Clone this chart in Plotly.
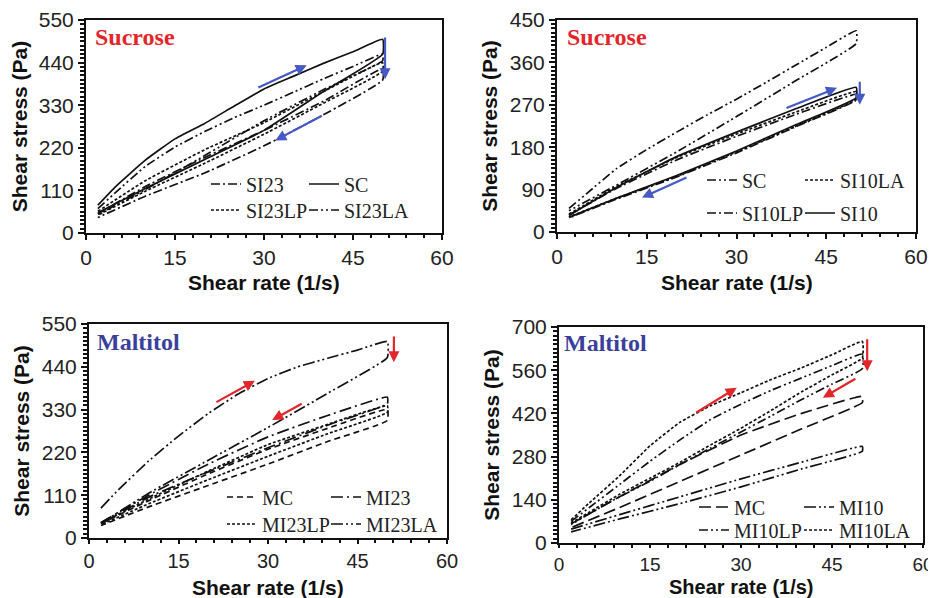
import plotly.graph_objects as go

# ---------------- data ----------------
X6 = [2, 10, 20, 30, 40, 50]
X11 = [2, 5, 10, 15, 20, 25, 30, 35, 40, 45, 50]

# Panel 1 (Sucrose, SI23 set)  -- up curves and down curves (down given in ascending x)
p1_SC_up = [72, 120, 188, 243, 283, 328, 372, 405, 438, 468, 500]
p1_SC_down = [52, 115, 190, 265, 365, 462]
p1_SI23LA_up = [63, 105, 172, 222, 262, 298, 330, 364, 398, 430, 462]
p1_SI23LA_down = [48, 112, 200, 290, 370, 445]
p1_SI23LP_up = [56, 135, 215, 285, 365, 440]
p1_SI23LP_down = [46, 108, 180, 255, 335, 418]
p1_SI23_up = [50, 120, 195, 265, 340, 424]
p1_SI23_down = [40, 95, 155, 225, 305, 395]

# Panel 2 (Sucrose, SI10 set)
p2_SC_up = [50, 82, 135, 175, 212, 248, 282, 318, 355, 392, 427]
p2_SC_down = [45, 100, 170, 245, 322, 400]
p2_SI10LA_up = [38, 97, 158, 208, 255, 298]
p2_SI10LA_down = [32, 72, 118, 170, 225, 282]
p2_SI10LP_up = [36, 93, 153, 203, 250, 292]
p2_SI10LP_down = [30, 70, 117, 168, 224, 280]
p2_SI10_up = [35, 95, 160, 212, 262, 307]
p2_SI10_down = [31, 72, 120, 172, 228, 285]

# Panel 3 (Maltitol, MI23 set)
p3_MI23LA_up = [77, 125, 198, 262, 320, 370, 410, 440, 462, 483, 505]
p3_MI23LA_down = [38, 115, 200, 284, 372, 464]
p3_MI23_up = [40, 110, 190, 260, 315, 362]
p3_MI23_down = [36, 105, 170, 232, 290, 345]
p3_MI23LP_up = [38, 100, 172, 240, 292, 340]
p3_MI23LP_down = [34, 88, 150, 210, 268, 323]
p3_MC_up = [37, 96, 165, 228, 282, 330]
p3_MC_down = [32, 80, 135, 190, 248, 302]

# Panel 4 (Maltitol, MI10 set)
p4_MI10LA_up = [75, 130, 218, 315, 392, 445, 487, 530, 568, 610, 653]
p4_MI10LA_down = [65, 100, 158, 210, 262, 318, 372, 430, 490, 545, 600]
p4_MI10LP_up = [70, 115, 190, 265, 335, 400, 450, 495, 535, 575, 612]
p4_MI10LP_down = [60, 95, 150, 200, 255, 308, 360, 412, 465, 515, 565]
p4_MC_up = [62, 150, 255, 350, 420, 475]
p4_MC_down = [50, 115, 200, 285, 370, 455]
p4_MI10_up = [45, 92, 150, 208, 262, 313]
p4_MI10_down = [36, 78, 128, 182, 240, 297]

x_range = [0, 60]
x_dtick = 15
y_ranges = [[0, 550], [0, 450], [0, 550], [0, 700]]
y_dticks = [110, 90, 110, 140]
panel_titles = ["Sucrose", "Sucrose", "Maltitol", "Maltitol"]
x_title = "Shear rate (1/s)"
y_title = "Shear stress (Pa)"

# ---------------- styles ----------------
SOLID = "solid"
SMALLDASH = "3px,2px"
DASH = "6px,4px"
LONGDASH = "12px,5px"
DASHDOT = "9px,3px,2px,3px"
DASHDOTDOT = "9px,3px,2px,3px,2px,3px"
LDASHDOTDOT = "12px,3px,2px,3px,2px,3px"

fig = go.Figure()


def add_loop(name, xu, yu, xd, yd, dash, ax, legend, lw=None):
    x = list(xu) + list(xd)[::-1]
    y = list(yu) + list(yd)[::-1]
    kw = {}
    if lw:
        kw["legendwidth"] = lw
    fig.add_trace(go.Scatter(
        x=x, y=y, mode="lines", name=name,
        line=dict(color="#111111", width=1.7, dash=dash, shape="spline", smoothing=0.4),
        xaxis="x" + ("" if ax == 1 else str(ax)),
        yaxis="y" + ("" if ax == 1 else str(ax)),
        legend=legend, hoverinfo="skip", **kw
    ))


# column widths for the first legend column of each panel
CW = [53, 53, 59, 60]

# panel 1
add_loop("SI23", X6, p1_SI23_up, X6, p1_SI23_down, DASHDOT, 1, "legend", CW[0])
add_loop("SC", X11, p1_SC_up, X6, p1_SC_down, SOLID, 1, "legend")
add_loop("SI23LP", X6, p1_SI23LP_up, X6, p1_SI23LP_down, SMALLDASH, 1, "legend2", CW[0])
add_loop("SI23LA", X11, p1_SI23LA_up, X6, p1_SI23LA_down, DASHDOTDOT, 1, "legend2")
# panel 2
add_loop("SC", X11, p2_SC_up, X6, p2_SC_down, DASHDOTDOT, 2, "legend3", CW[1])
add_loop("SI10LA", X6, p2_SI10LA_up, X6, p2_SI10LA_down, SMALLDASH, 2, "legend3")
add_loop("SI10LP", X6, p2_SI10LP_up, X6, p2_SI10LP_down, DASHDOT, 2, "legend4", CW[1])
add_loop("SI10", X6, p2_SI10_up, X6, p2_SI10_down, SOLID, 2, "legend4")
# panel 3
add_loop("MC", X6, p3_MC_up, X6, p3_MC_down, DASH, 3, "legend5", CW[2])
add_loop("MI23", X6, p3_MI23_up, X6, p3_MI23_down, "12px,4px,2px,4px", 3, "legend5")
add_loop("MI23LP", X6, p3_MI23LP_up, X6, p3_MI23LP_down, SMALLDASH, 3, "legend6", CW[2])
add_loop("MI23LA", X11, p3_MI23LA_up, X6, p3_MI23LA_down, LDASHDOTDOT, 3, "legend6")
# panel 4
add_loop("MC", X6, p4_MC_up, X6, p4_MC_down, LONGDASH, 4, "legend7", CW[3])
add_loop("MI10", X6, p4_MI10_up, X6, p4_MI10_down, LDASHDOTDOT, 4, "legend7")
add_loop("MI10LP", X11, p4_MI10LP_up, X11, p4_MI10LP_down, DASHDOTDOT, 4, "legend8", CW[3])
add_loop("MI10LA", X11, p4_MI10LA_up, X11, p4_MI10LA_down, SMALLDASH, 4, "legend8")

# the page body adds an 8px margin, so the figure is drawn 8px in from the window's corner
OFF = 8
W, H = 936 - OFF, 598 - OFF
# plot-area pixel boxes in window coordinates (left, top, right, bottom)
boxes = [(86, 20, 442, 233), (557, 20, 916, 232), (89, 324, 447, 538), (559, 327, 923, 543)]
# x-title centre rows (window px), fonts and x-tick sizes per panel
xtitle_y = [282, 282, 587, 587]
xtitle_size = [21, 21, 21, 20]
xtick_size = [21, 21, 20, 19]
xtick_len = [5, 5, 4, 3]

tick_font = dict(family="Liberation Sans, Arial, sans-serif", size=21, color="#222222")
title_font = dict(family="Liberation Sans, Arial, sans-serif", size=21, color="#111111")

layout = dict(
    width=W, height=H, margin=dict(l=0, r=0, t=0, b=0, autoexpand=False),
    paper_bgcolor="white", plot_bgcolor="white",
)
for i, (l, t, r, b) in enumerate(boxes):
    l, t, r, b = l - OFF, t - OFF, r - OFF, b - OFF
    k = "" if i == 0 else str(i + 1)
    layout["xaxis" + k] = dict(
        domain=[l / W, r / W], anchor="y" + k, range=x_range, dtick=x_dtick,
        automargin=False, ticklabeloverflow="allow",
        showline=True, mirror=True, linecolor="#111111", linewidth=2,
        ticks="outside", ticklen=xtick_len[i], tickwidth=1.5, tickcolor="#111111",
        minor=dict(dtick=3, ticks="outside", ticklen=3, tickcolor="#111111"),
        showgrid=False, zeroline=False, tickfont=dict(tick_font, size=xtick_size[i]),
    )
    layout["yaxis" + k] = dict(
        domain=[1 - b / H, 1 - t / H], anchor="x" + k, range=y_ranges[i], dtick=y_dticks[i],
        automargin=False, ticklabeloverflow="allow",
        showline=True, mirror=True, linecolor="#111111", linewidth=2,
        ticks="outside", ticklen=6, tickwidth=1.5, tickcolor="#111111",
        minor=dict(dtick=y_dticks[i] / 10, ticks="outside", ticklen=4, tickcolor="#111111"),
        showgrid=False, zeroline=False, tickfont=tick_font,
        title=dict(text="<b>" + y_title + "</b>", font=title_font, standoff=6),
    )

# legends: (text-start px, row-center px) in window coordinates
leg_specs = [
    (246, 184), (246, 210),
    (742, 180), (742, 213),
    (262, 497), (262, 524),
    (734, 507), (734, 530),
]
for j, (tx, ty) in enumerate(leg_specs):
    k = "legend" if j == 0 else "legend" + str(j + 1)
    layout[k] = dict(
        x=(tx - 40 - OFF) / W, y=1 - (ty - OFF) / H, xanchor="left", yanchor="middle",
        orientation="h", bgcolor="rgba(0,0,0,0)", borderwidth=0,
        font=dict(family="Liberation Serif, Times New Roman, serif", size=20, color="#222222"),
    )

fig.update_layout(**layout)

# x-axis titles placed under each panel
for i, (l, t, r, b) in enumerate(boxes):
    fig.add_annotation(x=((l + r) / 2 - OFF) / W, y=1 - (xtitle_y[i] - OFF) / H,
                       xref="paper", yref="paper", xanchor="center", yanchor="middle",
                       text="<b>" + x_title + "</b>", showarrow=False,
                       font=dict(title_font, size=xtitle_size[i]))

# panel labels
label_pos = [(93, 37, "#e3262b"), (565, 37, "#e3262b"), (95, 342, "#3b3f9c"), (562, 343, "#3b3f9c")]
for (px, py, col), txt in zip(label_pos, panel_titles):
    fig.add_annotation(x=(px - OFF) / W, y=1 - (py - OFF) / H, xref="paper", yref="paper",
                       xanchor="left", yanchor="middle", text="<b>" + txt + "</b>", showarrow=False,
                       font=dict(family="Liberation Serif, Times New Roman, serif", size=24, color=col))

# arrows: (panel, tail x, tail y, head x, head y, colour)
BLUE = "#4659c4"
RED = "#e3262b"
arrows = [
    (1, 28.8, 374, 37.2, 433, BLUE), (1, 40.0, 305, 31.9, 239, BLUE), (1, 50.4, 509, 50.4, 397, BLUE),
    (2, 38.1, 262, 46.8, 306, BLUE), (2, 21.9, 117, 14.2, 73, BLUE), (2, 50.6, 322, 50.6, 270, BLUE),
    (3, 21.1, 347, 27.8, 404, RED), (3, 35.9, 347, 30.7, 303, RED), (3, 51.1, 522, 51.1, 452, RED),
    (4, 22.4, 420, 29.3, 503, RED), (4, 49.1, 535, 43.5, 471, RED), (4, 50.8, 665, 50.8, 557, RED),
]
for p, x0, y0, x1, y1, col in arrows:
    k = "" if p == 1 else str(p)
    fig.add_annotation(x=x1, y=y1, ax=x0, ay=y0, xref="x" + k, yref="y" + k,
                       axref="x" + k, ayref="y" + k, text="", showarrow=True,
                       arrowhead=2, arrowsize=1, arrowwidth=2.2, arrowcolor=col)

fig.write_html("out.html")
